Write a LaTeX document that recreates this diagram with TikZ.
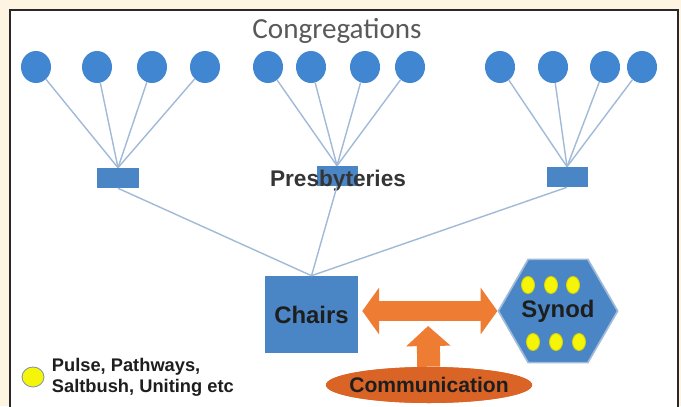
\documentclass[tikz,border=0pt]{standalone}
\usepackage{fontspec}
\setmainfont{Liberation Sans}
\newfontfamily\calfont{Carlito}
\usetikzlibrary{shapes.geometric,arrows.meta,calc}
\definecolor{cream}{RGB}{253,245,225}
\definecolor{framegray}{RGB}{40,40,40}
\definecolor{congblue}{RGB}{64,134,208}
\definecolor{chairblue}{RGB}{74,134,198}
\definecolor{linkblue}{RGB}{160,186,216}
\definecolor{arrorange}{RGB}{238,124,50}
\definecolor{commorange}{RGB}{218,100,38}
\definecolor{dotyellow}{RGB}{245,245,10}
\definecolor{textdark}{RGB}{30,30,30}
\begin{document}
\begin{tikzpicture}[x=0.025cm,y=-0.025cm,
	congr/.style={ellipse,fill=congblue,minimum width=0.75cm,minimum height=0.8cm,inner sep=0},
	presb/.style={rectangle,fill=chairblue,minimum width=1.025cm,minimum height=0.5cm,inner sep=0},
	link/.style={draw=linkblue,line width=1pt},
	bigbox/.style={rectangle,fill=chairblue,minimum width=2.325cm,minimum height=1.925cm,inner sep=0,
		text=textdark,font=\bfseries\fontsize{17}{20}\selectfont},
	synodhex/.style={regular polygon,regular polygon sides=6,minimum size=2.825cm,inner sep=0,
		fill=chairblue,draw=linkblue,line width=1.2pt,text=textdark,font=\bfseries\fontsize{17}{20}\selectfont},
	commarrow/.style={draw=arrorange,line width=0.5cm,
		{Triangle[length=0.42cm,width=1.15cm]}-{Triangle[length=0.42cm,width=1.15cm]}},
	uparrow/.style={draw=arrorange,line width=0.575cm,-{Triangle[length=0.5cm,width=1.08cm]}},
	commell/.style={ellipse,fill=commorange,minimum width=5.125cm,minimum height=0.9cm,
		inner xsep=-0.17cm,inner ysep=0,text=textdark,font=\bfseries\fontsize{15}{18}\selectfont}]
\clip (0,0) rectangle (681,406);
\fill[cream] (0,0) rectangle (681,406);
\draw[fill=white,draw=framegray,line width=1.5pt] (10,10) rectangle (678,430);

% congregations and presbyteries
\node[anchor=base,text=black!65,font=\calfont\fontsize{20.7}{24}\selectfont] (congtitle) at (337,39) {Congregations};
\foreach \x [count=\i] in {36,97,152,205,268,311,365,410,500,553,605,642}
	\node[congr] (c\i) at (\x,67) {};
\node[presb] (p1) at (118,178) {};
\node[presb] (p2) at (337,176) {};
\node[presb] (p3) at (567,177) {};
\foreach \i in {1,...,4}
	\draw[link] (c\i) -- (p1.north);
\foreach \i in {5,...,8}
	\draw[link] (c\i) -- (p2.north);
\foreach \i in {9,...,12}
	\draw[link] (c\i) -- (p3.north);
\node[anchor=base,text=textdark!90,font=\bfseries\fontsize{16.1}{18}\selectfont] (presbtext) at (338,187) {Presbyteries};

% chairs and synod
\node[bigbox] (chairs) at (311.5,314.5) {Chairs};
\foreach \i in {1,2,3}
	\draw[link] (p\i.south) -- (chairs.north);
\node[synodhex] (synod) at (558,311) {Synod};
\foreach \x in {528,551,573}
	\fill[dotyellow,draw=yellow!70!olive,line width=0.6pt] (\x,285) ellipse (6.5 and 8.5);
\foreach \x in {533,556,579}
	\fill[dotyellow,draw=yellow!70!olive,line width=0.6pt] (\x,342) ellipse (6.5 and 8.5);

% communication
\coordinate (hub) at ($(chairs.east |- synod.west)!0.5!(synod.west)$);
\node[commell] (comm) at (429,385) {Communication};
\draw[commarrow,shorten <=0.1cm] (chairs.east |- synod.west) -- (synod.west);
\draw[uparrow,shorten >=0.375cm] (comm) -- (hub);
\node[commell] at (comm) {Communication};

% legend
\node[ellipse,fill=dotyellow,draw=linkblue!80!black,line width=0.6pt,minimum width=0.55cm,minimum height=0.5cm,inner sep=0] (legdot) at (33,377) {};
\node[anchor=west,align=left,text=textdark,font=\bfseries\fontsize{13}{15}\selectfont] (legtext) at (47,377) {Pulse, Pathways,\\Saltbush, Uniting etc};
\end{tikzpicture}
\end{document}
